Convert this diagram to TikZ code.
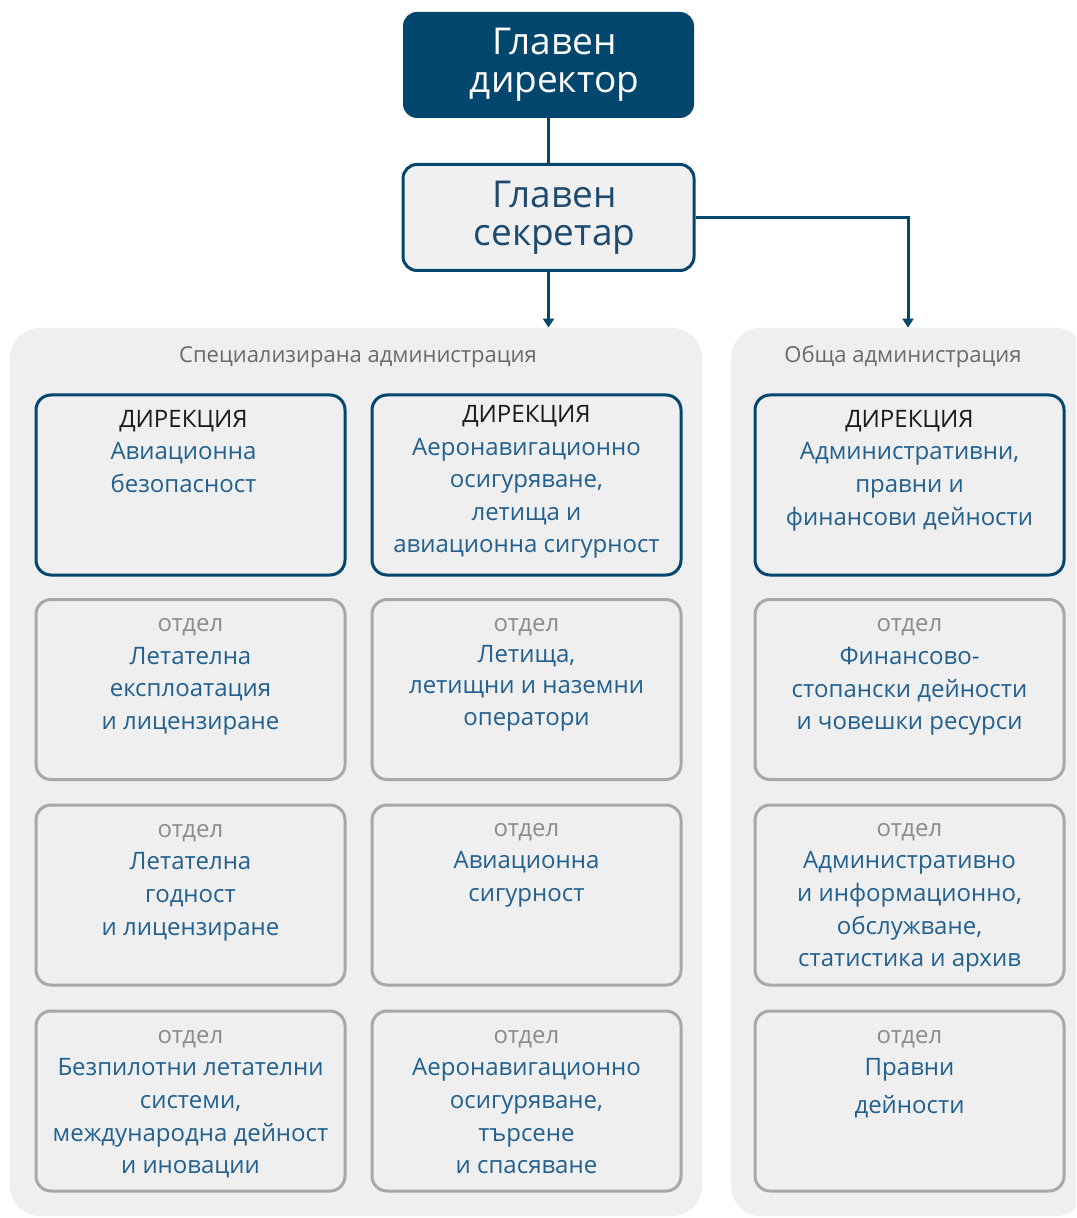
\documentclass[tikz,border=0pt]{standalone}
\usepackage{fontspec}
\setmainfont{Open Sans}
\usetikzlibrary{arrows.meta,positioning}

\begin{document}
\begin{tikzpicture}[x=0.5pt,y=-0.5pt,
    conn/.style={draw=dirblue,line width=1.5pt},
    arr/.style={conn,-{Triangle[length=4.5pt,width=5.5pt]}},
    panel/.style={fill=panelgray,rounded corners=15pt,inner sep=0pt,minimum height=444pt},
    topbox/.style={rounded corners=7pt,minimum width=145.5pt,minimum height=53pt,align=center,font=\fontsize{18.5}{18.8}\selectfont},
    dirbox/.style={draw=dirblue,line width=1.5pt,fill=panelgray,rounded corners=7.5pt,minimum width=154.5pt,minimum height=90pt,inner sep=0pt},
    deptbox/.style={dirbox,draw=deptgray},
    boxtext/.style={anchor=north,align=center,inner sep=0pt,text=textblue,font=\fontsize{12}{16.3}\selectfont},
    headtext/.style={text=headgray,font=\fontsize{11}{13}\selectfont}]
    % Colores
    \definecolor{dirblue}{HTML}{03466E}
    \definecolor{secblue}{HTML}{1D4B70}
    \definecolor{textblue}{HTML}{21608F}
    \definecolor{panelgray}{HTML}{EFEFEF}
    \definecolor{deptgray}{HTML}{A8A8A8}
    \definecolor{otdelgray}{HTML}{8C8C8C}
    \definecolor{headgray}{HTML}{6A6A6A}
    \definecolor{dirblack}{HTML}{1A1A1A}

    \useasboundingbox (0,0) rectangle (1076,1218);
    \clip (0,0) rectangle (1076,1218);

    % Paneles
    \node[panel,minimum width=346pt] (spec) at (356,772) {};
    \node[panel,minimum width=177pt] (gen) at (908,772) {};
    \node[headtext] (spechead) at (358,357) {Специализирана администрация};
    \node[headtext] (genhead) at (903,357) {Обща администрация};

    % Dirección
    \node[topbox,fill=dirblue,text=white] (dir) at (548.5,65) {\hspace*{6pt}Главен\\\hspace*{6pt}директор};
    \node[topbox,draw=dirblue,line width=1.5pt,fill={rgb,255:red,240;green,240;blue,240},text=secblue] (sec) at (548.5,217.5) {\hspace*{6pt}Главен\\\hspace*{6pt}секретар};

    % Conexiones
    \draw[conn] (dir) -- (sec);
    \draw[arr] (sec.south) -- (sec.south |- spec.north);
    \draw[arr] (sec.east) -| (gen.north);

    % Columna izquierda
    \node[dirbox] (a1) at (190.5,485) {};
    \node[deptbox] (a2) at (190.5,689.5) {};
    \node[deptbox] (a3) at (190.5,895) {};
    \node[deptbox] (a4) at (190.5,1101) {};
    \node[boxtext,xshift=-3.5pt] (a1t) at ([yshift=-5.25pt]a1.north) {\strut{\color{dirblack}ДИРЕКЦИЯ}\\Авиационна\\безопасност};
    \node[boxtext] (a2t) at ([yshift=-5.2pt]a2.north) {\strut{\color{otdelgray}отдел}\\Летателна\\експлоатация\\и лицензиране};
    \node[boxtext] (a3t) at ([yshift=-5.3pt]a3.north) {\strut{\color{otdelgray}отдел}\\Летателна\\годност\\и лицензиране};
    \node[boxtext] (a4t) at ([yshift=-5.3pt]a4.north) {\strut{\color{otdelgray}отдел}\\Безпилотни летателни\\системи,\\международна дейност\\и иновации};

    % Columna central
    \node[dirbox] (b1) at (526.5,485) {};
    \node[deptbox] (b2) at (526.5,689.5) {};
    \node[deptbox] (b3) at (526.5,895) {};
    \node[deptbox] (b4) at (526.5,1101) {};
    \node[boxtext] (b1t) at ([yshift=-2.85pt]b1.north) {\strut{\color{dirblack}ДИРЕКЦИЯ}\\Аеронавигационно\\осигуряване,\\летища и\\авиационна сигурност};
    \node[boxtext,font=\fontsize{12}{15.6}\selectfont] (b2t) at ([yshift=-5.6pt]b2.north) {\strut{\color{otdelgray}отдел}\\Летища,\\летищни и наземни\\оператори};
    \node[boxtext] (b3t) at ([yshift=-4.8pt]b3.north) {\strut{\color{otdelgray}отдел}\\Авиационна\\сигурност};
    \node[boxtext] (b4t) at ([yshift=-5.3pt]b4.north) {\strut{\color{otdelgray}отдел}\\Аеронавигационно\\осигуряване,\\търсене\\и спасяване};

    % Columna derecha
    \node[dirbox] (c1) at (909.5,485) {};
    \node[deptbox] (c2) at (909.5,689.5) {};
    \node[deptbox] (c3) at (909.5,895) {};
    \node[deptbox] (c4) at (909.5,1101) {};
    \node[boxtext] (c1t) at ([yshift=-5.25pt]c1.north) {\strut{\color{dirblack}ДИРЕКЦИЯ}\\Административни,\\правни и\\финансови дейности};
    \node[boxtext] (c2t) at ([yshift=-5.3pt]c2.north) {\strut{\color{otdelgray}отдел}\\Финансово-\\стопански дейности\\и човешки ресурси};
    \node[boxtext] (c3t) at ([yshift=-4.8pt]c3.north) {\strut{\color{otdelgray}отдел}\\Административно\\и информационно,\\обслужване,\\статистика и архив};
    \node[boxtext] (c4t) at ([yshift=-5.3pt]c4.north) {\strut{\color{otdelgray}отдел}\\Правни\\[2.5pt]дейности};

\end{tikzpicture}
\end{document}
